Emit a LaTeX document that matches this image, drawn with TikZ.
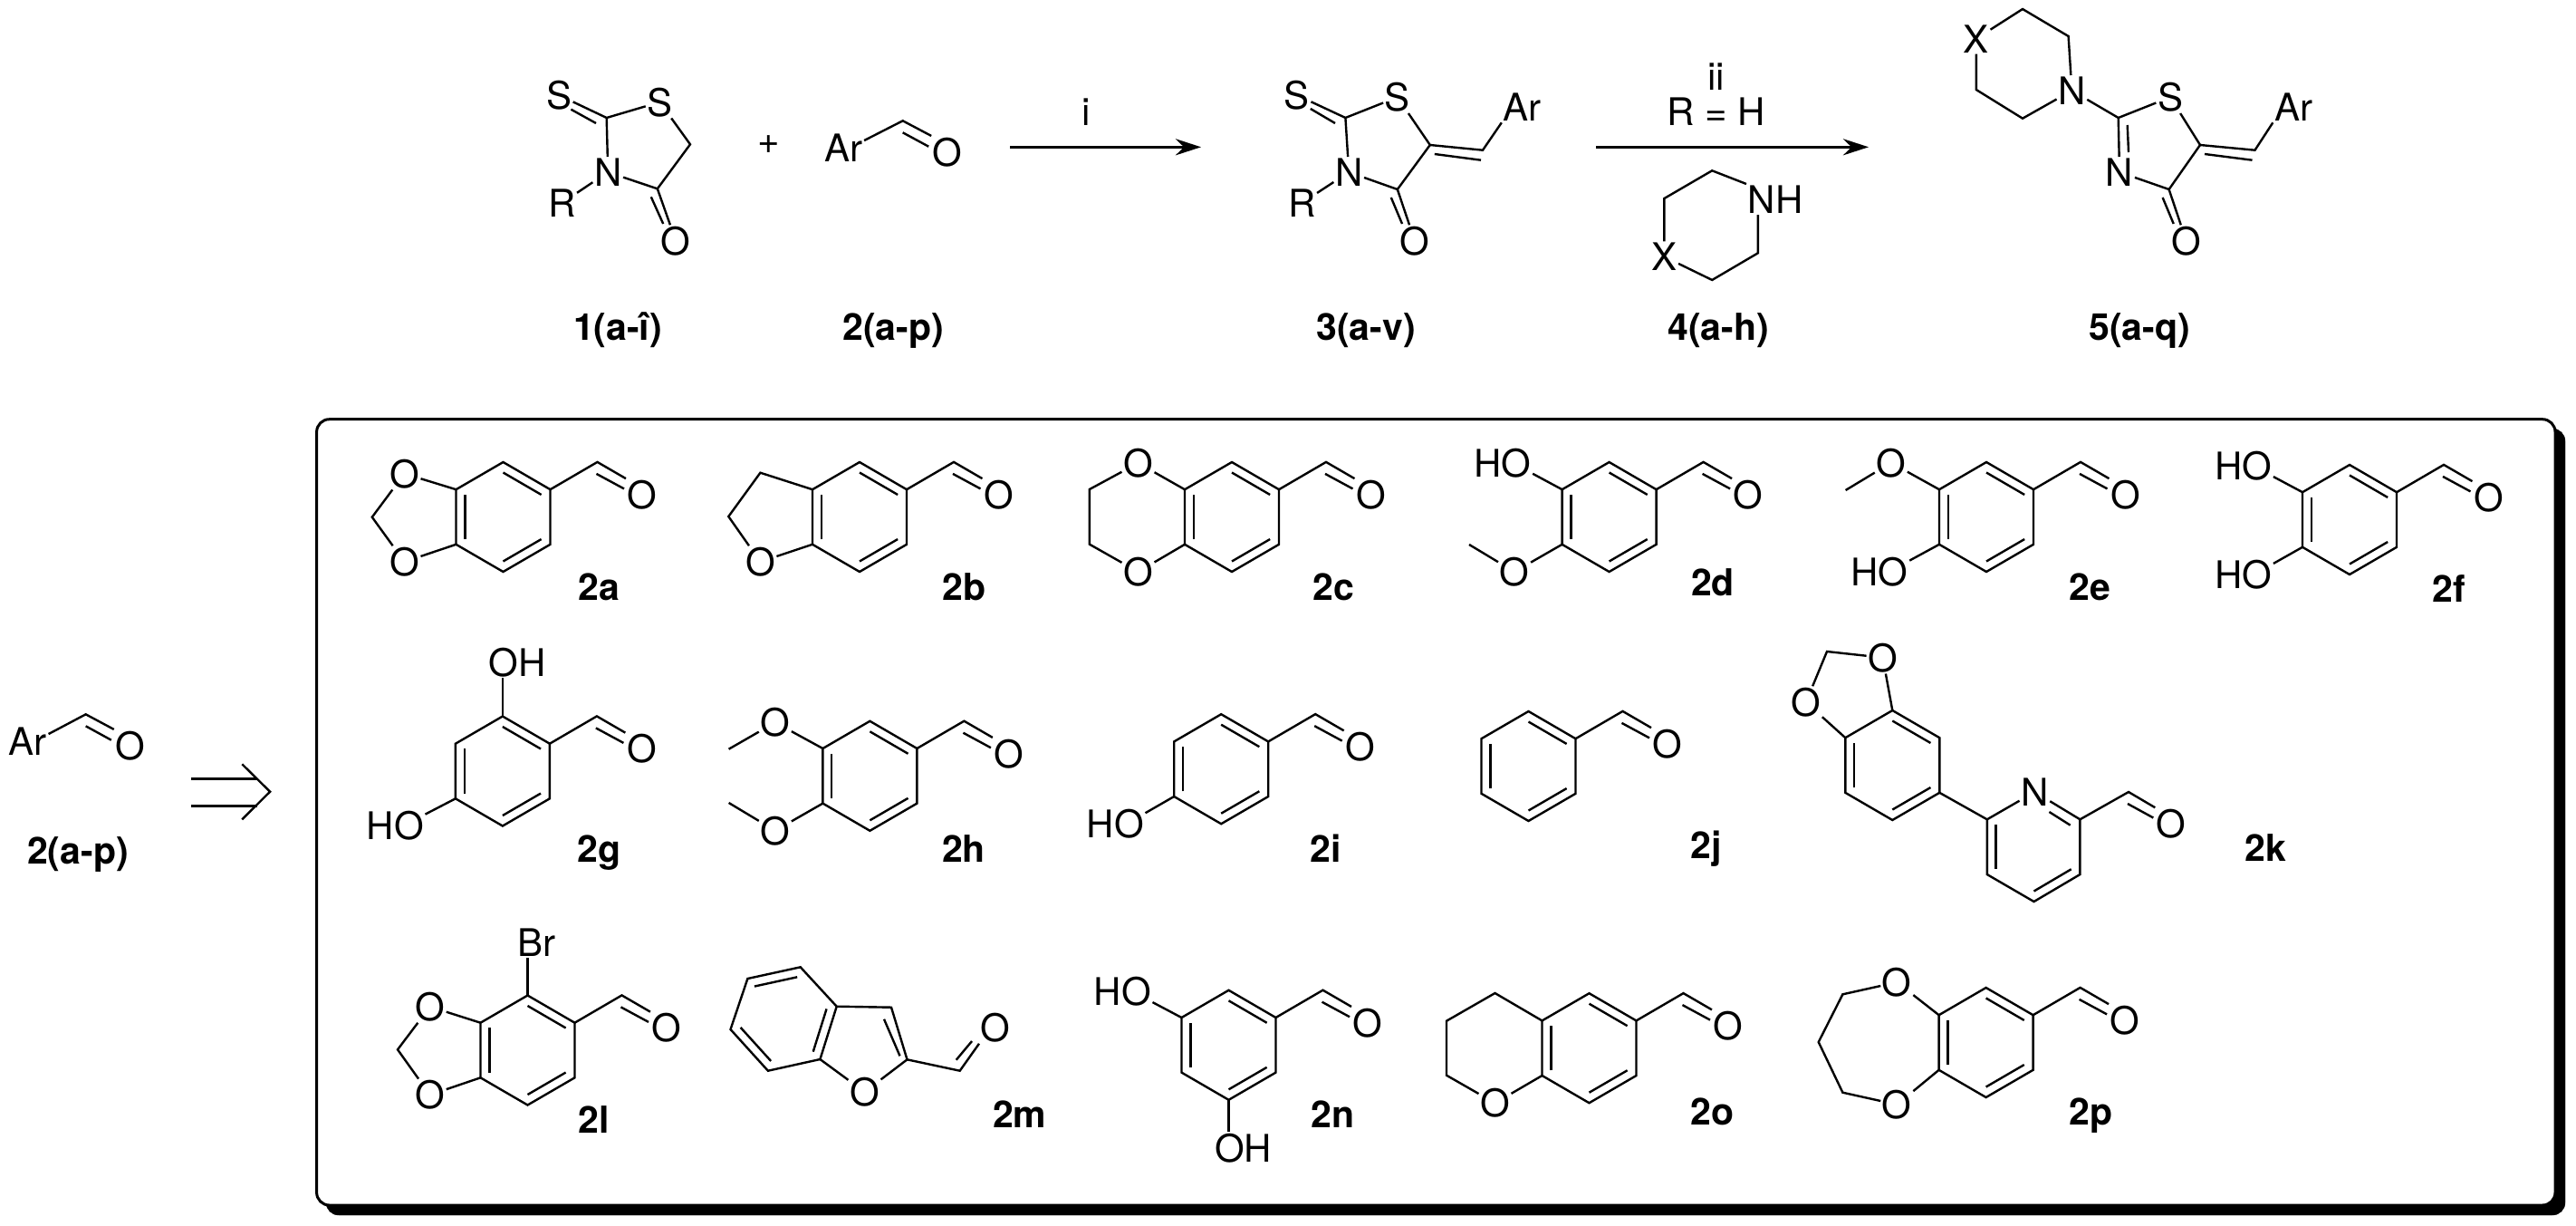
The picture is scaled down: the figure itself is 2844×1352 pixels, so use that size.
\documentclass[tikz,border=0pt]{standalone}
\usepackage{fontspec}
\setmainfont{TeX Gyre Heros}
\usetikzlibrary{calc,arrows.meta}
\tikzset{
    bond/.style={line width=2.4pt},
    atom/.style={inner sep=1.5pt, font=\fontsize{42}{48}\selectfont},
    tag/.style={inner sep=0pt, anchor=base, font=\fontsize{41}{46}\selectfont\bfseries},
    react/.style={line width=3.4pt, -{Stealth[length=28pt,width=18pt]}}
}
% inner line of a double bond, pulled towards a third point
\def\Inner#1#2#3{
    \draw[bond] ($(#1)!.19!(#3)$) -- ($(#2)!.19!(#3)$);
}
% benzene ring, name / centre x / centre y
\def\Benzene#1#2#3{
    \path (#2,#3) coordinate (#1c)
      +(0,-60.5) coordinate (#1-1) +(52,-30.3) coordinate (#1-2) +(52,30.3) coordinate (#1-3)
      +(0,60.5) coordinate (#1-4) +(-52,30.3) coordinate (#1-5) +(-52,-30.3) coordinate (#1-6);
    \draw[bond] (#1-1) -- (#1-2) -- (#1-3) -- (#1-4) -- (#1-5) -- (#1-6) -- cycle;
    \Inner{#1-1}{#1-2}{#1c}
    \Inner{#1-3}{#1-4}{#1c}
    \Inner{#1-5}{#1-6}{#1c}
}
% the same ring with its aldehyde group
\def\Benzal#1#2#3{
    \Benzene{#1}{#2}{#3}
    \path (#1-2) +(52,-30.3) coordinate (#1-7);
    \node[atom] (#1O) at ($(#1-7)+(49.5,36)$) {O};
    \draw[bond] (#1-2) -- (#1-7) -- (#1O.north west);
    \draw[bond] ($(#1-7)+(-1,13)$) -- ($(#1O)+(-20,-6.5)$);
}
\begin{document}
\begin{tikzpicture}[x=1pt,y=-1pt]
    \useasboundingbox (0,0) rectangle (2844,1352);

    % rhodanine 1
    \node[atom] (s1a) at (617,105) {S};
    \node[atom] (s1b) at (728.4,112.7) {S};
    \node[atom] (n1) at (671.2,190) {N};
    \node[atom] (r1) at (620.2,224) {R};
    \node[atom] (o1) at (746.2,266) {O};
    \coordinate (c1a) at (669.7,130);
    \coordinate (c1b) at (762,159.3);
    \coordinate (c1c) at (725.8,208.3);
    \draw[bond] (s1a) -- (c1a) -- (s1b) -- (c1b) -- (c1c) -- (n1) -- (c1a);
    \draw[bond] (n1) -- (r1);
    \draw[bond] (c1c) -- (o1);
    \draw[bond] ($(c1a)+(-11.7,6)$) -- ($(s1a)+(13.4,15.7)$);
    \draw[bond] ($(c1c)+(-7,9)$) -- ($(o1)+(-14,-19)$);
    \node[atom] (plus) at (848.3,160) {+};
    % aldehyde 2
    \node[atom] (ar2) at (931.4,163.3) {Ar};
    \node[atom] (o2) at (1046.2,167.7) {O};
    \coordinate (c2) at (996.7,133.3);
    \draw[bond] (ar2.20) -- (c2) -- (o2.north west);
    \draw[bond] ($(c2)+(0,13)$) -- ($(o2)+(-21,-6)$);
    % first arrow
    \coordinate (a1) at (1115,162.3);
    \coordinate (a2) at (1326,162.3);
    \draw[react] (a1) -- (a2);
    \node[atom] (cond1) at (1199.3,123.3) {i};
    % product 3
    \node[atom] (s3a) at (1431.8,105) {S};
    \node[atom] (s3b) at (1542.8,107.3) {S};
    \node[atom] (n3) at (1489.2,190) {N};
    \node[atom] (r3) at (1437.2,224) {R};
    \node[atom] (o3) at (1562,266) {O};
    \node[atom] (ar3) at (1680.5,118.3) {Ar};
    \coordinate (c3a) at (1485.4,130);
    \coordinate (c3b) at (1578.8,160);
    \coordinate (c3c) at (1542.8,209);
    \coordinate (c3d) at (1637,165.7);
    \draw[bond] (s3a) -- (c3a) -- (s3b) -- (c3b) -- (c3c) -- (n3) -- (c3a);
    \draw[bond] (n3) -- (r3);
    \draw[bond] (c3c) -- (o3);
    \draw[bond] (c3b) -- (c3d) -- (ar3.south west);
    \draw[bond] ($(c3a)+(-11.4,6)$) -- ($(s3a)+(15,15)$);
    \draw[bond] ($(c3c)+(-7,9)$) -- ($(o3)+(-14,-19)$);
    \draw[bond] ($(c3b)+(5,10)$) -- ($(c3d)+(-2,11)$);
    % second arrow, with amine 4 below it
    \coordinate (b1) at (1762.4,162.3);
    \coordinate (b2) at (2063,162.3);
    \draw[react] (b1) -- (b2);
    \node[atom] (cond2) at (1894.8,85) {ii};
    \node[atom] (cond3) at (1894.8,123.3) {R = H};
    \node[atom] (nh4) at (1960,220) {NH};
    \node[atom] (x4) at (1837.4,283.3) {X};
    \coordinate (c4a) at (1890.2,188.3);
    \coordinate (c4b) at (1837.4,219);
    \coordinate (c4c) at (1890.2,309);
    \coordinate (c4d) at (1940.8,279.3);
    \draw[bond] (nh4.north west) -- (c4a) -- (c4b) -- (x4) -- (c4c) -- (c4d) -- (c4d |- nh4.south);
    % product 5
    \node[atom] (x5) at (2181.8,42.7) {X};
    \node[atom] (n5a) at (2287.4,100) {N};
    \node[atom] (s5) at (2396,107.3) {S};
    \node[atom] (n5b) at (2340,190) {N};
    \node[atom] (o5) at (2413.7,266) {O};
    \node[atom] (ar5) at (2532,118.3) {Ar};
    \coordinate (c5a) at (2233,10);
    \coordinate (c5b) at (2283.6,40);
    \coordinate (c5c) at (2233,130.7);
    \coordinate (c5d) at (2181.8,99);
    \coordinate (c5e) at (2338.7,130);
    \coordinate (c5f) at (2429,160);
    \coordinate (c5g) at (2394.6,209);
    \coordinate (c5h) at (2489.5,165.7);
    \draw[bond] (x5) -- (c5a) -- (c5b) -- (n5a) -- (c5c) -- (c5d) -- (x5);
    \draw[bond] (n5a) -- (c5e) -- (s5) -- (c5f) -- (c5g) -- (n5b) -- (c5e);
    \draw[bond] (c5g) -- (o5);
    \draw[bond] (c5f) -- (c5h) -- (ar5.south west);
    \draw[bond] ($(c5e)+(10,8)$) -- ($(n5b)+(10,-22)$);
    \draw[bond] ($(c5g)+(-7,9)$) -- ($(o5)+(-14,-19)$);
    \draw[bond] ($(c5f)+(5,10)$) -- ($(c5h)+(-3,11)$);
    % captions of the scheme
    \node[tag] (t1) at (682,375) {1(a-î)};
    \node[tag] (t2) at (986,375) {2(a-p)};
    \node[tag] (t3) at (1508,375) {3(a-v)};
    \node[tag] (t4) at (1897,375) {4(a-h)};
    \node[tag] (t5) at (2362,375) {5(a-q)};

    % Ar-CHO and retro arrow
    \node[atom] (ar6) at (30.9,818.3) {Ar};
    \node[atom] (o6) at (143.8,822.7) {O};
    \coordinate (c6) at (94.7,788.3);
    \draw[bond] (ar6.20) -- (c6) -- (o6.north west);
    \draw[bond] ($(c6)+(0,13)$) -- ($(o6)+(-21,-6)$);
    \node[tag] (t6) at (86,953) {2(a-p)};
    \coordinate (u1) at (211,859.3);
    \coordinate (u2) at (284,859.3);
    \coordinate (v1) at (211,889.3);
    \coordinate (v2) at (284,889.3);
    \coordinate (w1) at (267.3,843.3);
    \coordinate (w2) at (298.1,873.7);
    \coordinate (w3) at (267.3,904.3);
    \draw[line width=3.4pt] (u1) -- (u2);
    \draw[line width=3.4pt] (v1) -- (v2);
    \draw[bond] (w1) -- (w2) -- (w3);

    % frame
    \draw[fill=black,rounded corners=14pt] (360,473) rectangle (2832,1341);
    \draw[line width=3pt,fill=white,rounded corners=14pt] (349.6,462.7) rectangle (2821,1330);

    % first row
    \Benzal{a}{555.5}{570.5}
    \node[atom] (aO1) at (446.5,522.7) {O};
    \node[atom] (aO2) at (446.5,620) {O};
    \coordinate (aC) at (410.8,570.7);
    \draw[bond] (a-6) -- (aO1) -- (aC) -- (aO2) -- (a-5);
    \node[tag] (ta) at (661,662) {2a};

    \Benzal{b}{949}{570.5}
    \node[atom] (bO1) at (839.4,620) {O};
    \coordinate (bC1) at (839.4,521.7);
    \coordinate (bC2) at (804.3,570);
    \draw[bond] (b-6) -- (bC1) -- (bC2) -- (bO1) -- (b-5);
    \node[tag] (tb) at (1064.5,662) {2b};

    \Benzal{c}{1360}{570.5}
    \node[atom] (cO1) at (1256.5,511) {O};
    \node[atom] (cO2) at (1256.5,631) {O};
    \coordinate (cC1) at (1202.9,540);
    \coordinate (cC2) at (1202.9,600.7);
    \draw[bond] (c-6) -- (cO1) -- (cC1) -- (cC2) -- (cO2) -- (c-5);
    \node[tag] (tc) at (1472,662) {2c};

    \Benzal{d}{1776.6}{570.5}
    \node[atom] (dOH) at (1659,510.7) {HO};
    \node[atom] (dO) at (1672,631) {O};
    \coordinate (dMe) at (1622,601);
    \draw[bond] (d-6) -- (dOH.-20);
    \draw[bond] (d-5) -- (dO) -- (dMe);
    \node[tag] (td) at (1891,657) {2d};

    \Benzal{e}{2193}{570.5}
    \node[atom] (eO) at (2087.8,510.7) {O};
    \node[atom] (eOH) at (2075,630.7) {HO};
    \coordinate (eMe) at (2037.6,541);
    \draw[bond] (e-6) -- (eO) -- (eMe);
    \draw[bond] (e-5) -- (eOH.20);
    \node[tag] (te) at (2307,662) {2e};

    \Benzal{f}{2594}{573.5}
    \node[atom] (fOH1) at (2476.7,514) {HO};
    \node[atom] (fOH2) at (2476.7,634) {HO};
    \draw[bond] (f-6) -- (fOH1.-20);
    \draw[bond] (f-5) -- (fOH2.20);
    \node[tag] (tf) at (2704,664) {2f};

    % second row
    \Benzal{g}{554.9}{851}
    \node[atom] (gOH1) at (571,730.7) {OH};
    \node[atom] (gOH2) at (436.3,910.7) {HO};
    \draw[bond] (g-1) -- (g-1 |- gOH1.south);
    \draw[bond] (g-5) -- (gOH2.20);
    \node[tag] (tg) at (661.5,951.7) {2g};

    \Benzal{h}{960.4}{856.3}
    \node[atom] (hO1) at (855.8,797.3) {O};
    \node[atom] (hO2) at (855.8,916.7) {O};
    \coordinate (hMe1) at (804.6,826.7);
    \coordinate (hMe2) at (804.6,886);
    \draw[bond] (h-6) -- (hO1) -- (hMe1);
    \draw[bond] (h-5) -- (hO2) -- (hMe2);
    \node[tag] (th) at (1064,951) {2h};

    \Benzal{i}{1348.2}{848.7}
    \node[atom] (iOH) at (1231.3,909.3) {HO};
    \draw[bond] (i-5) -- (iOH.20);
    \node[tag] (ti) at (1464,951) {2i};

    \Benzal{j}{1687.5}{845.5}
    \node[tag] (tj) at (1884,947) {2j};

    % 2k, dioxole and pyridine on one ring
    \Benzene{k}{2089.3}{844.5}
    \node[atom] (kO1) at (1993.8,775) {O};
    \node[atom] (kO2) at (2078.6,725.7) {O};
    \coordinate (kC) at (2017,719);
    \draw[bond] (k-6) -- (kO1) -- (kC) -- (kO2) -- (k-1);
    \node[atom] (kN) at (2246.4,874) {N};
    \node[atom] (kO3) at (2397.3,909) {O};
    \coordinate (k8) at (2193.8,904.3);
    \coordinate (k9) at (2296.4,904.3);
    \coordinate (k10) at (2296.4,965);
    \coordinate (k11) at (2245.5,995);
    \coordinate (k12) at (2193.8,965);
    \coordinate (k13) at (2245.2,934.7);
    \coordinate (k14) at (2350,874);
    \draw[bond] (k-3) -- (k8) -- (kN) -- (k9) -- (k10) -- (k11) -- (k12) -- (k8);
    \draw[bond] (k9) -- (k14) -- (kO3.north west);
    \draw[bond] ($(k14)+(-1,13)$) -- ($(kO3)+(-20,-6.5)$);
    \Inner{k8}{k12}{k13}
    \Inner{k10}{k11}{k13}
    \draw[bond] ($(k9)+(-10.7,6.4)$) -- ($(kN)+(16,22)$);
    \node[tag] (tk) at (2501,950) {2k};

    % third row
    \Benzal{l}{582.5}{1159}
    \node[atom] (lBr) at (592.5,1040) {Br};
    \node[atom] (lO1) at (474.7,1111) {O};
    \node[atom] (lO2) at (474.7,1208.3) {O};
    \coordinate (lC) at (439,1158.3);
    \draw[bond] (l-1) -- (l-1 |- lBr.south);
    \draw[bond] (l-6) -- (lO1) -- (lC) -- (lO2) -- (l-5);
    \node[tag] (tl) at (655.7,1250) {2l};

    \node[atom] (mO1) at (954.5,1205) {O};
    \node[atom] (mO2) at (1099,1134) {O};
    \coordinate (m1) at (883.7,1067.3);
    \coordinate (m2) at (825.4,1080);
    \coordinate (m3) at (806.5,1136);
    \coordinate (m4) at (847.9,1181.7);
    \coordinate (m5) at (905.4,1169);
    \coordinate (m6) at (923.7,1110.7);
    \coordinate (m7) at (984,1111.7);
    \coordinate (m8) at (1001.5,1169.3);
    \coordinate (m9) at (1059.7,1181.7);
    \coordinate (mc) at (865,1125);
    \draw[bond] (m1) -- (m2) -- (m3) -- (m4) -- (m5) -- (m6) -- cycle;
    \draw[bond] (m6) -- (m7) -- (m8) -- (mO1) -- (m5);
    \draw[bond] (m8) -- (m9) -- (mO2.south west);
    \Inner{m1}{m2}{mc}
    \Inner{m3}{m4}{mc}
    \Inner{m5}{m6}{mc}
    \draw[bond] ($(m7)+(-8,13)$) -- ($(m8)+(-8,-4)$);
    \draw[bond] ($(m9)+(-4,-12)$) -- ($(mO2)+(-26,15)$);
    \node[tag] (tm) at (1125.7,1244) {2m};

    \Benzal{n}{1356.5}{1153.3}
    \node[atom] (nOH1) at (1239.3,1094) {HO};
    \node[atom] (nOH2) at (1372.6,1266.7) {OH};
    \draw[bond] (n-6) -- (nOH1.-20);
    \draw[bond] (n-4) -- (n-4 |- nOH2.north);
    \node[tag] (tn) at (1471.8,1244) {2n};

    \Benzal{o}{1754.5}{1156.7}
    \node[atom] (oO1) at (1650.5,1217.3) {O};
    \coordinate (oC1) at (1650.5,1096);
    \coordinate (oC2) at (1597,1126.7);
    \coordinate (oC3) at (1597,1186.7);
    \draw[bond] (o-6) -- (oC1) -- (oC2) -- (oC3) -- (oO1) -- (o-5);
    \node[tag] (to) at (1890.8,1241.7) {2o};

    \Benzal{p}{2192.6}{1150.5}
    \node[atom] (pO1) at (2094.3,1084) {O};
    \node[atom] (pO2) at (2094.3,1219) {O};
    \coordinate (pC1) at (2034.4,1097.3);
    \coordinate (pC2) at (2007.7,1150);
    \coordinate (pC3) at (2034.4,1205.7);
    \draw[bond] (p-6) -- (pO1) -- (pC1) -- (pC2) -- (pC3) -- (pO2) -- (p-5);
    \node[tag] (tp) at (2308.8,1241.7) {2p};
\end{tikzpicture}
\end{document}
